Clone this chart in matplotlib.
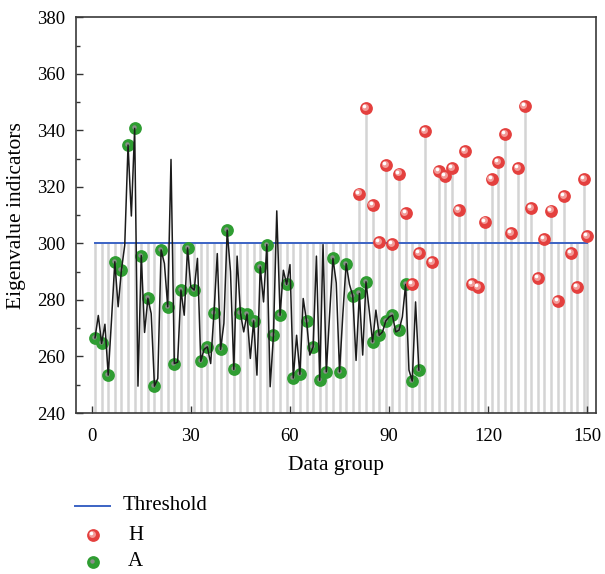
import matplotlib
matplotlib.use("Agg")
import matplotlib.pyplot as plt
import numpy as np
from matplotlib.transforms import offset_copy
from matplotlib.ticker import MultipleLocator

plt.rcParams['font.family'] = ['Liberation Serif', 'DejaVu Serif']

# eigenvalue trace for groups 1..99 (black line)
trace_groups = np.arange(1, 100)
trace_vals = [
    266.6, 274.5, 264.6, 271.4, 253.4, 273.0, 293.5, 277.6, 290.6, 299.4,
    334.8, 309.7, 340.7, 249.5, 295.7, 268.5, 280.6, 275.2, 249.5, 252.2,
    297.7, 292.9, 277.6, 329.7, 257.5, 258.0, 283.5, 274.6, 298.4, 284.6,
    283.5, 294.7, 258.3, 262.5, 263.4, 257.5, 275.4, 296.4, 262.5, 271.7,
    304.7, 290.0, 255.4, 295.5, 275.4, 268.7, 275.0, 259.3, 272.6, 253.4,
    291.7, 279.3, 299.6, 249.3, 267.5, 311.5, 274.6, 290.5, 285.5, 292.5,
    252.4, 267.5, 253.7, 280.5, 272.6, 260.5, 263.4, 295.5, 251.6, 299.6,
    254.6, 275.0, 294.7, 286.0, 254.6, 275.0, 292.8, 285.5, 281.5, 258.6,
    282.3, 260.5, 286.4, 276.0, 265.2, 276.4, 267.5, 268.7, 272.6, 274.0,
    274.6, 268.7, 269.3, 274.0, 285.5, 255.2, 251.3, 279.3, 255.2,
]

# A samples sit on the odd groups of the trace
a_groups = trace_groups[::2]
a_vals = trace_vals[::2]

# H samples
h_groups = list(range(81, 150, 2)) + [150]
h_vals = [
    317.6, 347.8, 313.6, 300.6, 327.6, 299.7, 324.7, 310.6, 285.5, 296.6,
    339.8, 293.5, 325.7, 323.7, 326.7, 311.7, 332.7, 285.7, 284.6, 307.7,
    322.7, 328.7, 338.7, 303.6, 326.7, 348.7, 312.6, 287.6, 301.5, 311.6,
    279.6, 316.8, 296.5, 284.6, 322.7, 302.6,
]

threshold = 300
stem_groups = list(range(1, 150, 2)) + [150]

RED = '#e4403e'
GREEN = '#2f9d32'
BLUE = '#3b63c4'

fig = plt.figure(figsize=(6.05, 5.74), dpi=100)
ax = fig.add_axes([76 / 605, 161 / 574, 520 / 605, 395.7 / 574])

# grey drop lines: up to the threshold, or up to the H point above it
h_lookup = dict(zip(h_groups, h_vals))
stem_tops = [max(threshold, h_lookup.get(g, threshold)) for g in stem_groups]
ax.vlines(stem_groups, 240, stem_tops, colors='#d4d4d4', lw=1.8, zorder=1)

ax.plot([stem_groups[0], stem_groups[-1]], [threshold, threshold],
        color=BLUE, lw=1.4, zorder=2)


def ball(axis, xs, ys, color, shine, z):
    axis.plot(xs, ys, 'o', ms=9.2, color=color, mec='none', zorder=z)
    if shine == 'red':
        t1 = offset_copy(axis.transData, fig=fig, x=-1.2, y=1.2, units='dots')
        t2 = offset_copy(axis.transData, fig=fig, x=-2.0, y=2.0, units='dots')
        axis.plot(xs, ys, 'o', ms=5.0, color='#f29a97', mec='none',
                  transform=t1, zorder=z + 0.1)
        axis.plot(xs, ys, 'o', ms=2.6, color='#ffffff', mec='none',
                  transform=t2, zorder=z + 0.2)
    else:
        t1 = offset_copy(axis.transData, fig=fig, x=-1.0, y=1.0, units='dots')
        axis.plot(xs, ys, 'o', ms=3.2, color='#8a8f8a', mec='none',
                  transform=t1, zorder=z + 0.1)


ball(ax, a_groups, a_vals, GREEN, 'green', 3)
ax.plot(trace_groups, trace_vals, color='#1b1b1b', lw=1.1, zorder=4)
ball(ax, h_groups, h_vals, RED, 'red', 5)

ax.set_xlim(-4.75, 152.6)
ax.set_ylim(240, 380)
ax.set_xticks([0, 30, 60, 90, 120, 150])
ax.yaxis.set_major_locator(MultipleLocator(20))
ax.yaxis.set_minor_locator(MultipleLocator(10))
ax.tick_params(axis='both', which='both', direction='in', top=False,
               right=False, labelsize=13.5, color='#333333')
ax.tick_params(axis='both', which='major', length=5, width=1)
ax.tick_params(axis='y', which='minor', length=3, width=1)
ax.tick_params(axis='x', which='major', pad=11)
ax.tick_params(axis='y', which='major', pad=8)
for sp in ax.spines.values():
    sp.set_color('#3a3a3a')
    sp.set_linewidth(1.2)

ax.set_xlabel('Data group', fontsize=15.5, labelpad=8)
ax.set_ylabel('Eigenvalue indicators', fontsize=15.5, labelpad=8)

# legend below the plot, laid out in pixel units
lax = fig.add_axes([0, 0, 1, 1])
lax.set_xlim(0, 605)
lax.set_ylim(574, 0)
lax.axis('off')
lax.plot([75, 110], [506, 506], color=BLUE, lw=1.4)
lax.text(123, 505, 'Threshold', fontsize=15, va='center')
ball(lax, [93], [535], RED, 'red', 5)
lax.text(128, 535, 'H', fontsize=15, va='center')
ball(lax, [93], [562], GREEN, 'green', 5)
lax.text(128, 561, 'A', fontsize=15, va='center')

fig.savefig('out.png', dpi=100)
